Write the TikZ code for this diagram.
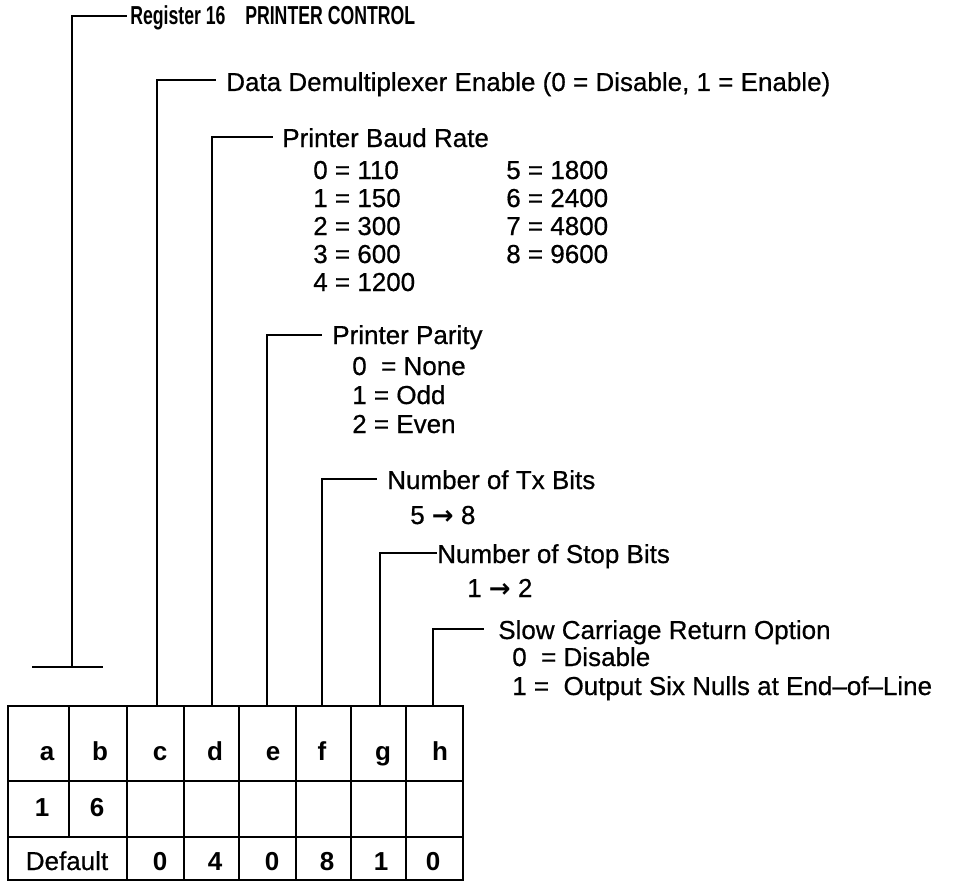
\documentclass[tikz,border=0pt]{standalone}
\usepackage{fontspec}
\setmainfont{Liberation Sans}
\newfontfamily\bodyfont[FakeBold=0.6]{Liberation Sans}
\newfontfamily\arrfont{DejaVu Sans}
\usepackage{graphicx}
\newcommand{\myarr}{{\arrfont\bfseries →}}
\tikzset{
  lbl/.style={anchor=base west, inner sep=0pt, font=\fontsize{19.5}{22}\bodyfont},
  hdr/.style={anchor=base west, inner sep=0pt, font=\fontsize{19.5}{22}\selectfont\bfseries},
  cell/.style={anchor=base, inner sep=0pt, font=\fontsize{19.5}{22}\selectfont\bfseries},
  cellr/.style={anchor=base, inner sep=0pt, font=\fontsize{19.5}{22}\bodyfont},
  brk/.style={line width=2.2pt, line join=miter},
  tbl/.style={line width=2.2pt, line join=miter}
}
\begin{document}
\begin{tikzpicture}[x=0.75pt,y=-0.75pt]
\useasboundingbox (0,0) rectangle (971,881);

% ---- labels ----
\node[hdr] (reg) at (130,25) {\scalebox{0.68}[1]{Register 16}};
\node[hdr] (title) at (245,25) {\scalebox{0.68}[1]{PRINTER CONTROL}};
\node[lbl] (lc) at (226,91) {Data Demultiplexer Enable (0 = Disable, 1 = Enable)};
\node[lbl] (ld) at (282,147) {Printer Baud Rate};
\node[lbl] (b0) at (313,179) {0 = 110};
\node[lbl] (b1) at (313,207) {1 = 150};
\node[lbl] (b2) at (313,235) {2 = 300};
\node[lbl] (b3) at (313,263) {3 = 600};
\node[lbl] (b4) at (313,291) {4 = 1200};
\node[lbl] (b5) at (506,179) {5 = 1800};
\node[lbl] (b6) at (506,207) {6 = 2400};
\node[lbl] (b7) at (506,235) {7 = 4800};
\node[lbl] (b8) at (506,263) {8 = 9600};
\node[lbl] (le) at (332,344) {Printer Parity};
\node[lbl] (p0) at (352,375) {0\ \ = None};
\node[lbl] (p1) at (352,404) {1 = Odd};
\node[lbl] (p2) at (352,433) {2 = Even};
\node[lbl] (lf) at (387,489) {Number of Tx Bits};
\node[lbl] (tx) at (410,524) {5 \myarr{} 8};
\node[lbl] (lg) at (437,563) {Number of Stop Bits};
\node[lbl] (sb) at (467,597) {1 \myarr{} 2};
\node[lbl] (lh) at (498,639) {Slow Carriage Return Option};
\node[lbl] (s0) at (512,666) {0\ \ = Disable};
\node[lbl] (s1) at (512,695) {1 =\ \ Output Six Nulls at End–of–Line};

% ---- bracket coordinates ----
\coordinate (aB) at (72,667);
\coordinate (aE) at (127,16);
\coordinate (xL) at (32,667);
\coordinate (xR) at (103,667);
\coordinate (cB) at (157,706);
\coordinate (cE) at (216,80);
\coordinate (dB) at (212,706);
\coordinate (dE) at (273,137);
\coordinate (eB) at (267,706);
\coordinate (eE) at (322,335);
\coordinate (fB) at (322,706);
\coordinate (fE) at (377,479);
\coordinate (gB) at (380,706);
\coordinate (gE) at (437,553);
\coordinate (hB) at (433,706);
\coordinate (hE) at (484,629);

\draw[brk] (aB) |- (aE);
\draw[brk] (xL) -- (xR);
\draw[brk] (cB) |- (cE);
\draw[brk] (dB) |- (dE);
\draw[brk] (eB) |- (eE);
\draw[brk] (fB) |- (fE);
\draw[brk] (gB) |- (gE);
\draw[brk] (hB) |- (hE);

% ---- table ----
\draw[tbl] (8,706) rectangle (463,880);
\draw[tbl] (8,781) -- (463,781);
\draw[tbl] (8,837) -- (463,837);
\draw[tbl] (69,706) -- (69,837);
\foreach \x in {127,184,239,296,351,406} \draw[tbl] (\x,706) -- (\x,880);

\node[cell] (ta) at (47,760) {a};
\node[cell] (tb) at (100,760) {b};
\node[cell] (tc) at (160,760) {c};
\node[cell] (td) at (215,760) {d};
\node[cell] (te) at (273,760) {e};
\node[cell] (tf) at (322,760) {f};
\node[cell] (tg) at (383,760) {g};
\node[cell] (th) at (440,760) {h};
\node[cell] (r1) at (42,816) {1};
\node[cell] (r6) at (97,816) {6};
\node[cellr] (dflt) at (67,870) {Default};
\node[cell] (d0) at (160,870) {0};
\node[cell] (d4) at (215,870) {4};
\node[cell] (d5) at (272,870) {0};
\node[cell] (d8) at (327,870) {8};
\node[cell] (d1) at (381,870) {1};
\node[cell] (d2) at (433,870) {0};
\end{tikzpicture}
\end{document}
